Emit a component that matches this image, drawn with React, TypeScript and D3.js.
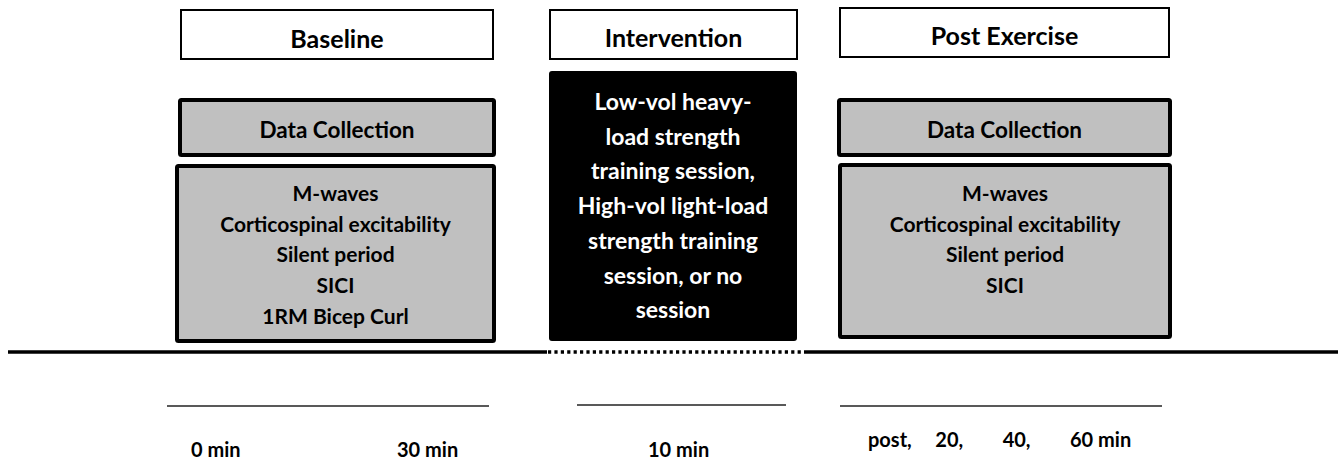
import React from 'react';
import { scaleLinear } from 'd3';

const phases = ['Baseline', 'Intervention', 'Post Exercise'];
const baselineMeasures = ['M-waves', 'Corticospinal excitability', 'Silent period', 'SICI', '1RM Bicep Curl'];
const postMeasures = ['M-waves', 'Corticospinal excitability', 'Silent period', 'SICI'];
const interventionLines = [
  'Low-vol heavy-',
  'load strength',
  'training session,',
  'High-vol light-load',
  'strength training',
  'session, or no',
  'session',
];
const baselineTimes = [0, 30];
const baselineTimeLabels = ['0 min', '30 min'];
const interventionTimes = [10];
const interventionTimeLabels = ['10 min'];
const postTimes = [0, 20, 40, 60];
const postTimeLabels = ['post,', '20,', '40,', '60 min'];

const W = 1340;
const H = 462;
const FONT = "Lato, 'Open Sans', sans-serif";

// column boxes
const cols = [
  { x0: 180, x1: 494, hy: 10, hb: 48 },
  { x0: 549, x1: 798, hy: 10, hb: 47 },
  { x0: 839, x1: 1170, hy: 8, hb: 45 },
];

export default function App() {
  const lineY = 352;
  const tlY = 406;

  const xBase = scaleLinear().domain([0, 30]).range([191, 397]);
  const xInt = scaleLinear().domain([10, 10]).range([648, 648]);
  const xPost = scaleLinear().domain([0, 60]).range([868, 1070]);

  const measureY = scaleLinear().domain([0, 1]).range([201, 231.7]);
  const intY = scaleLinear().domain([0, 1]).range([110, 144.7]);

  const measureBox = (x0: number, x1: number, y0: number, y1: number, items: string[]) => (
    <g>
      <rect x={x0} y={y0} width={x1 - x0} height={y1 - y0} fill="#c0c0c0" stroke="#000" strokeWidth={4} rx={1.5} />
      {items.map((m, i) => (
        <text key={i} x={(x0 + x1) / 2} y={measureY(i)} textAnchor="middle"
          fontFamily={FONT} fontWeight={700} fontSize={21} fill="#000">{m}</text>
      ))}
    </g>
  );

  return (
    <svg width={W} height={H} viewBox={`0 0 ${W} ${H}`}
      style={{ position: 'absolute', left: 0, top: 0, background: '#fff' }}>
      {/* phase headers */}
      {phases.map((p, i) => {
        const c = cols[i];
        return (
          <g key={p}>
            <rect x={c.x0 + 1} y={c.hy} width={c.x1 - c.x0 - 2} height={49} fill="#fff" stroke="#000" strokeWidth={2} />
            <text x={(c.x0 + c.x1) / 2} y={c.hb} textAnchor="middle" fontFamily={FONT}
              fontWeight={700} fontSize={25} fill="#000">{p}</text>
          </g>
        );
      })}

      {/* data collection boxes */}
      {[0, 2].map(i => (
        <g key={'dc' + i}>
          <rect x={cols[i].x0} y={100} width={cols[i].x1 - cols[i].x0} height={55} fill="#c0c0c0" stroke="#000" strokeWidth={4} rx={1.5} />
          <text x={(cols[i].x0 + cols[i].x1) / 2} y={137.5} textAnchor="middle" fontFamily={FONT}
            fontWeight={700} fontSize={22.5} fill="#000">Data Collection</text>
        </g>
      ))}

      {measureBox(177, 494, 166, 341, baselineMeasures)}
      {measureBox(840, 1170, 165, 337, postMeasures)}

      {/* intervention block */}
      <rect x={549} y={71} width={248} height={270} fill="#000" rx={3} />
      {interventionLines.map((t, i) => (
        <text key={i} x={673} y={intY(i)} textAnchor="middle"
          fontFamily={FONT} fontWeight={700} fontSize={23} fill="#fff">{t}</text>
      ))}

      {/* main timeline */}
      <line x1={8} x2={547} y1={lineY} y2={lineY} stroke="#000" strokeWidth={3.5} />
      <line x1={548} x2={805} y1={lineY} y2={lineY} stroke="#000" strokeWidth={3.5} strokeDasharray="3.2,3.2" />
      <line x1={805} x2={1338} y1={lineY} y2={lineY} stroke="#000" strokeWidth={3.5} />

      {/* time spans */}
      <line x1={167} x2={489} y1={tlY} y2={tlY} stroke="#222" strokeWidth={1.5} />
      <line x1={577} x2={786} y1={tlY - 1} y2={tlY - 1} stroke="#222" strokeWidth={1.5} />
      <line x1={840} x2={1162} y1={tlY} y2={tlY} stroke="#222" strokeWidth={1.5} />

      {baselineTimes.map((t, i) => (
        <text key={'b' + i} x={xBase(t)} y={457} fontFamily={FONT} fontWeight={700} fontSize={20} fill="#000">{baselineTimeLabels[i]}</text>
      ))}
      {interventionTimes.map((t, i) => (
        <text key={'i' + i} x={xInt(t)} y={457} fontFamily={FONT} fontWeight={700} fontSize={20} fill="#000">{interventionTimeLabels[i]}</text>
      ))}
      {postTimes.map((t, i) => (
        <text key={'p' + i} x={xPost(t)} y={447} fontFamily={FONT} fontWeight={700} fontSize={20} fill="#000">{postTimeLabels[i]}</text>
      ))}
    </svg>
  );
}
